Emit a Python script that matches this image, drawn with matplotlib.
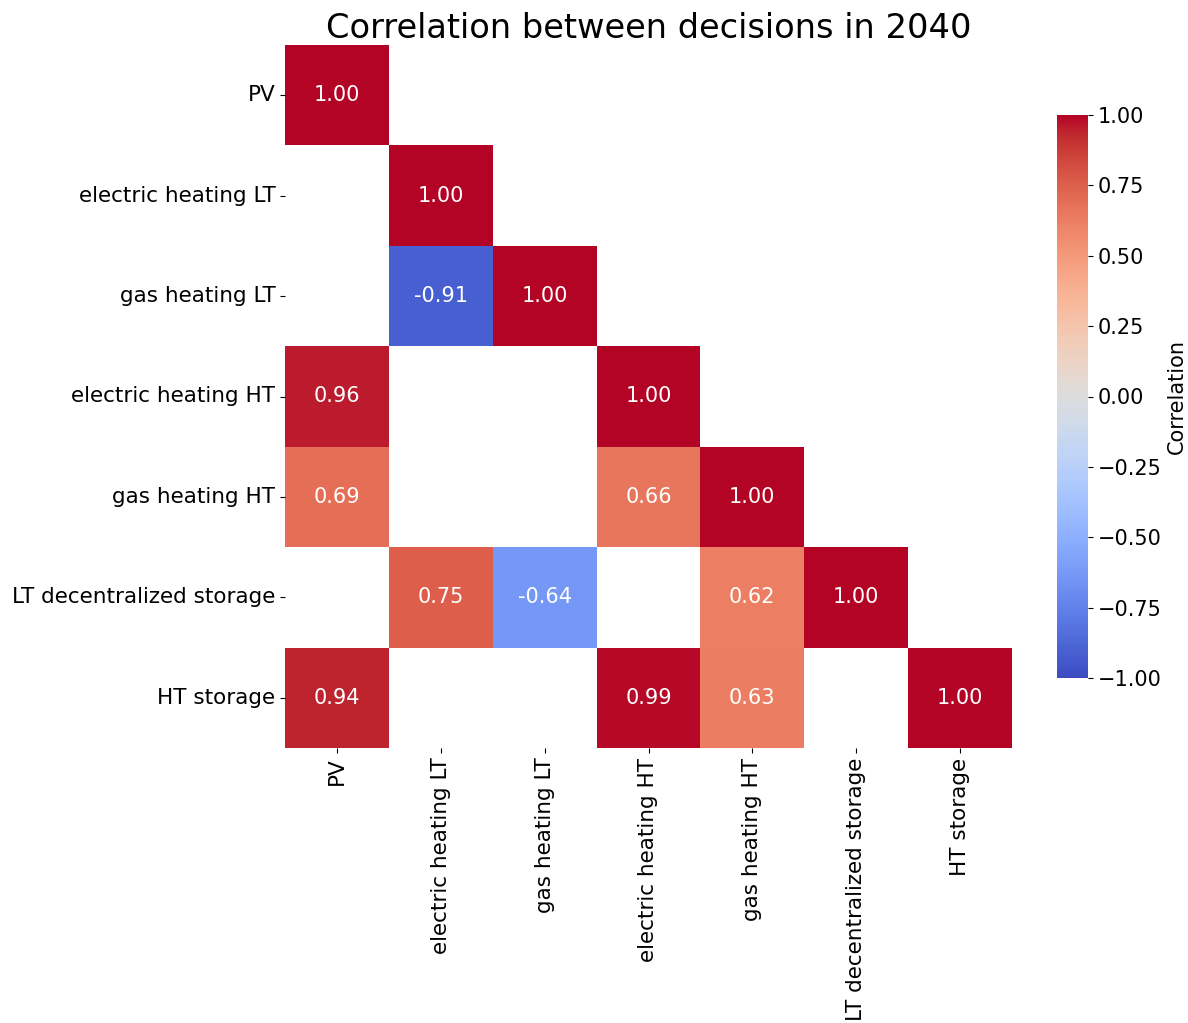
import numpy as np
import matplotlib
matplotlib.use("Agg")
import matplotlib.pyplot as plt
import seaborn as sns

labels = ["PV", "electric heating LT", "gas heating LT", "electric heating HT",
          "gas heating HT", "LT decentralized storage", "HT storage"]

# Lower-triangle correlations; NaN marks pairs that are not shown
row_pv = [1.00]
row_el_lt = [np.nan, 1.00]
row_gas_lt = [np.nan, -0.91, 1.00]
row_el_ht = [0.96, np.nan, np.nan, 1.00]
row_gas_ht = [0.69, np.nan, np.nan, 0.66, 1.00]
row_lt_stor = [np.nan, 0.75, -0.64, np.nan, 0.62, 1.00]
row_ht_stor = [0.94, np.nan, np.nan, 0.99, 0.63, np.nan, 1.00]

rows = [row_pv, row_el_lt, row_gas_lt, row_el_ht, row_gas_ht, row_lt_stor, row_ht_stor]
n = len(labels)
corr = np.full((n, n), np.nan)
for i, r in enumerate(rows):
    corr[i, :len(r)] = r
mask = np.isnan(corr)

fig = plt.figure(figsize=(11.88, 10.23), dpi=100)
W, H = 1188, 1023
ax = fig.add_axes([285 / W, 1 - 748 / H, 727 / W, 703 / H])
cax = fig.add_axes([1057 / W, 1 - 678 / H, 31 / W, 563 / H])

sns.heatmap(corr, mask=mask, cmap="coolwarm", vmin=-1, vmax=1,
            annot=True, fmt=".2f", annot_kws={"size": 15, "color": "white"},
            xticklabels=labels, yticklabels=labels,
            ax=ax, cbar_ax=cax, cbar_kws={"label": "Correlation"})

ax.set_title("Correlation between decisions in 2040", fontsize=24.2, pad=4)
ax.tick_params(axis="both", labelsize=15.5)
plt.setp(ax.get_xticklabels(), rotation=90)
plt.setp(ax.get_yticklabels(), rotation=0)
cax.tick_params(labelsize=15)
cax.yaxis.label.set_size(15)

fig.savefig("out.png", dpi=100)
